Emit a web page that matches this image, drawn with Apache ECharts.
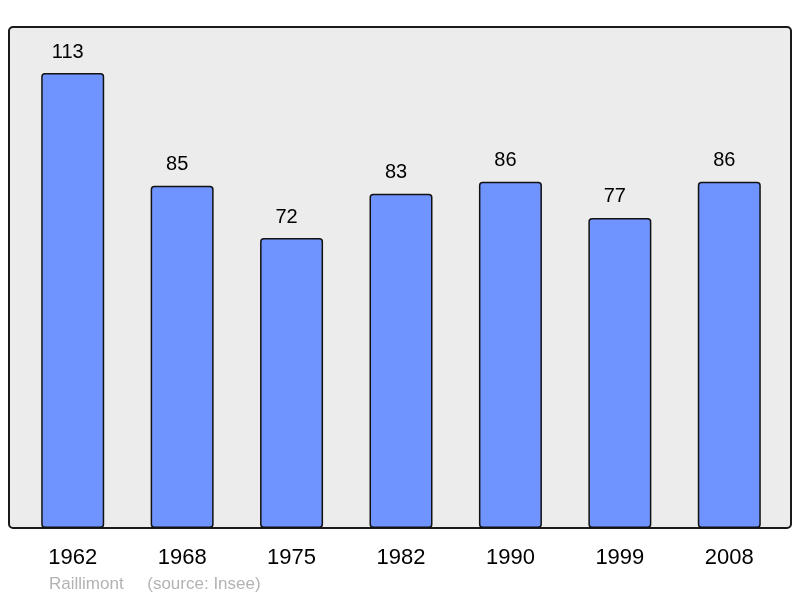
<!DOCTYPE html>
<html>
<head>
<meta charset="utf-8">
<script src="https://cdn.jsdelivr.net/npm/echarts@6/dist/echarts.min.js"></script>
<style>
  html, body { margin: 0; padding: 0; background: #fff; }
  #main { width: 800px; height: 598px; }
</style>
</head>
<body>
<div id="main"></div>
<script>
var years = ['1962', '1968', '1975', '1982', '1990', '1999', '2008'];
var population = [113, 85, 72, 83, 86, 77, 86];
var footer = 'Raillimont     (source: Insee)';

var chart = echarts.init(document.getElementById('main'), null, { renderer: 'canvas' });

var option = {
  animation: false,
  backgroundColor: '#fff',
  graphic: {
    elements: [
      {
        type: 'rect',
        z: -10,
        shape: { x: 9, y: 27, width: 782, height: 501, r: 4 },
        style: { fill: '#ececec', stroke: '#1a1a1a', lineWidth: 2 }
      },
      {
        type: 'text',
        left: 49,
        top: 576,
        style: { text: footer, fontSize: 17, fill: '#b3b3b3', fontFamily: 'Liberation Sans' }
      }
    ]
  },
  grid: { left: 18, right: 16, top: 73, bottom: 70 },
  xAxis: {
    type: 'category',
    data: years,
    axisLine: { show: false },
    axisTick: { show: false },
    axisLabel: { color: '#000', fontSize: 22, margin: 19, fontFamily: 'Liberation Sans' }
  },
  yAxis: {
    type: 'value',
    min: 0,
    max: 113,
    show: false,
    splitLine: { show: false }
  },
  series: [{
    type: 'bar',
    data: population,
    barWidth: 63,
    itemStyle: { color: '#7094ff', borderColor: '#111', borderWidth: 1.5, borderRadius: 3 },
    label: {
      show: true,
      position: 'top',
      distance: 11,
      offset: [-5, 0],
      color: '#000',
      fontSize: 20,
      fontFamily: 'Liberation Sans'
    }
  }]
};

chart.setOption(option);
</script>
</body>
</html>
